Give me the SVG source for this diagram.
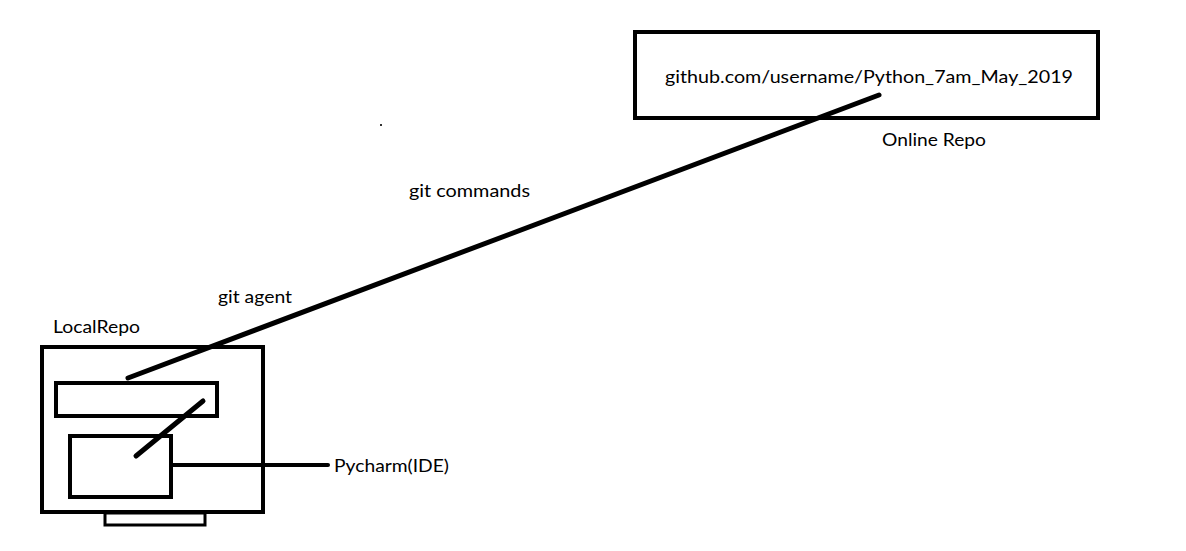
<svg xmlns="http://www.w3.org/2000/svg" width="1186" height="551" viewBox="0 0 1186 551">
<style>
.box{fill:none;stroke:#000;stroke-width:4}
.ln{stroke:#000;stroke-linecap:round;fill:none}
text{font-family:Lato,"Open Sans","Liberation Sans",sans-serif;font-size:18px;fill:#000}
</style>
<rect width="1186" height="551" fill="#fff"/>
<g id="online-repo">
<rect class="box" x="635" y="32" width="463" height="86"/>
<text x="665" y="83" textLength="408" lengthAdjust="spacingAndGlyphs">github.com/username/Python_7am_May_2019</text>
<text x="882" y="146" textLength="104" lengthAdjust="spacingAndGlyphs">Online Repo</text>
</g>
<g id="local-repo">
<text x="53" y="333" textLength="87" lengthAdjust="spacingAndGlyphs">LocalRepo</text>
<rect class="box" x="42" y="347" width="221" height="165"/>
<rect class="box" x="56" y="383" width="161" height="33"/>
<rect class="box" x="70" y="436" width="101" height="61"/>
<rect class="box" x="105" y="513" width="100" height="12" style="stroke-width:3"/>
</g>
<g id="pycharm">
<text x="334" y="472" textLength="115" lengthAdjust="spacingAndGlyphs">Pycharm(IDE)</text>
</g>
<g id="labels">
<text x="409" y="197" textLength="121" lengthAdjust="spacingAndGlyphs">git commands</text>
<text x="218" y="303" textLength="74" lengthAdjust="spacingAndGlyphs">git agent</text>
<rect x="380" y="124" width="2" height="2" fill="#333"/>
</g>
<g id="connectors">
<line class="ln" x1="879" y1="95" x2="128" y2="378" stroke-width="5"/>
<line class="ln" x1="203" y1="401" x2="136" y2="456" stroke-width="5"/>
<line class="ln" x1="173" y1="465" x2="328" y2="465" stroke-width="4"/>
</g>
</svg>
